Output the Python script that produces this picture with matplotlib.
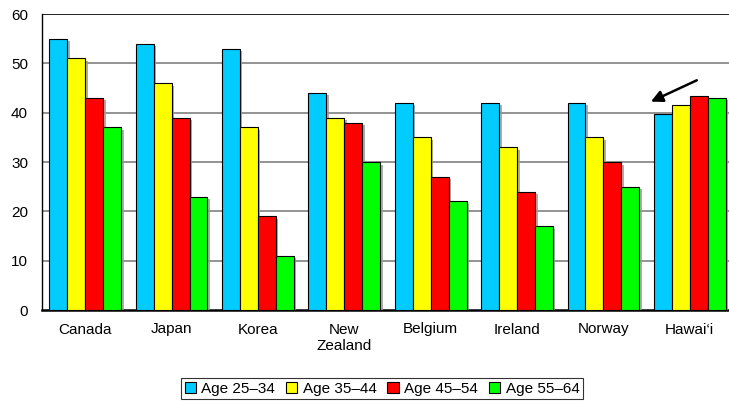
import matplotlib
matplotlib.use("Agg")
import matplotlib.pyplot as plt
import matplotlib.patheffects as pe
import numpy as np

plt.rcParams['font.family'] = ['Liberation Sans', 'DejaVu Sans']

categories = ["Canada", "Japan", "Korea", "New\nZealand", "Belgium", "Ireland", "Norway", "Hawai\u2018i"]
series_names = ["Age 25\u201334", "Age 35\u201344", "Age 45\u201354", "Age 55\u201364"]
age_25_34 = [55, 54, 53, 44, 42, 42, 42, 39.7]
age_35_44 = [51, 46, 37, 39, 35, 33, 35, 41.6]
age_45_54 = [43, 39, 19, 38, 27, 24, 30, 43.3]
age_55_64 = [37, 23, 11, 30, 22, 17, 25, 43.0]
series = [age_25_34, age_35_44, age_45_54, age_55_64]
colors = ["#00CCFF", "#FFFF00", "#FF0000", "#00FF00"]

fig = plt.figure(figsize=(7.29, 4.01), dpi=100)
ax = fig.add_axes([42 / 729, (401 - 310) / 401, 691 / 729, 296 / 401])

x = np.arange(len(categories))
width = 0.208
shadow = [pe.SimplePatchShadow(offset=(1.8, -1.8), shadow_rgbFace="#999999", alpha=0.8), pe.Normal()]
for i, (vals, col, name) in enumerate(zip(series, colors, series_names)):
    bars = ax.bar(x + (i - 1.5) * width, vals, width, color=col, edgecolor="black",
                  linewidth=0.8, label=name, zorder=3)
    for b in bars:
        b.set_path_effects(shadow)

ax.set_xlim(-0.5, 7.5)
ax.set_ylim(0, 60)
ax.set_yticks(range(0, 61, 10))
ax.set_xticks(x)
ax.set_xticklabels(categories)
ax.tick_params(axis='both', length=0, labelsize=11, colors="black")
ax.tick_params(axis='y', pad=10)
ax.tick_params(axis='x', pad=9)

for y in range(10, 60, 10):
    ax.axhline(y, color="#808080", linewidth=1.2, zorder=1)
ax.axhline(60, color="black", linewidth=1.2, zorder=1)

ax.spines['right'].set_visible(False)
ax.spines['top'].set_visible(False)
ax.spines['left'].set_linewidth(1.0)
ax.spines['bottom'].set_linewidth(1.8)

ax.annotate("", xy=(6.52, 42.0), xytext=(7.11, 46.8),
            arrowprops=dict(arrowstyle="-|>,head_length=0.7,head_width=0.35",
                            color="black", lw=1.8), zorder=5)

leg = fig.legend(loc="lower center", bbox_to_anchor=(0.524, 0.0), ncol=4,
                 fontsize=11, frameon=True, fancybox=False, edgecolor="black",
                 handlelength=0.75, handleheight=0.75, handletextpad=0.35,
                 columnspacing=0.7, borderpad=0.25, borderaxespad=0.1)
leg.get_frame().set_linewidth(0.8)
for h in leg.legend_handles:
    h.set_path_effects([])

fig.savefig("out.png", dpi=100)
